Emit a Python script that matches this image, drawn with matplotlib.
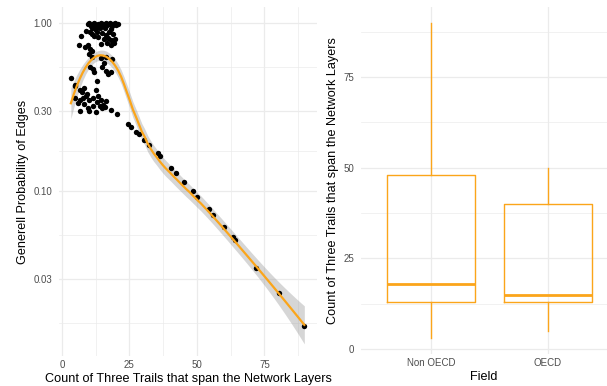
import numpy as np
import matplotlib
matplotlib.use("Agg")
import matplotlib.pyplot as plt
from matplotlib.ticker import FixedLocator

plt.rcParams["font.family"] = ["Liberation Sans", "DejaVu Sans"]

# ─── Data: scatter (left panel) ───
cluster_x = [9.5, 10.2, 10.8, 11.5, 12.0, 12.6, 13.2, 13.8, 14.5, 15.1, 15.6, 16.2, 16.8,
             17.3, 17.9, 18.5, 19.0, 19.6, 20.2, 20.7, 11.0, 12.3, 16.0, 18.0, 14.0,
             9.0, 10.5, 11.2, 13.0, 15.0, 16.5, 17.5, 19.0, 12.0,
             7.0, 13.5, 15.5, 17.0, 18.2, 19.5,
             6.4, 8.5, 9.8, 10.5, 11.0, 14.5, 16.8, 18.0, 19.2,
             10.0, 11.2, 14.5, 16.5, 18.5, 15.5,
             10.5, 11.5, 12.0, 15.0, 16.2, 17.0, 18.2,
             3.3, 13.0, 5.0,
             5.0, 6.5, 7.5, 8.0, 9.2, 12.5, 13.5, 5.0, 6.5, 7.8, 9.0, 10.2, 11.5,
             12.8, 14.5, 16.5, 6.0, 8.0, 9.5, 11.5, 14.0, 15.0, 16.0, 10.0, 12.5, 6.5]
cluster_y = [0.98, 1.00, 0.96, 0.99, 1.00, 0.97, 0.99, 0.95, 1.00, 0.98, 0.96, 1.00, 0.97,
             0.99, 1.00, 0.96, 0.98, 1.00, 0.97, 0.99, 0.93, 0.92, 0.93, 0.92, 0.94,
             0.90, 0.88, 0.86, 0.89, 0.87, 0.85, 0.88, 0.86, 0.84,
             0.84, 0.82, 0.80, 0.81, 0.79, 0.80,
             0.74, 0.72, 0.74, 0.70, 0.68, 0.75, 0.76, 0.74, 0.76,
             0.65, 0.63, 0.62, 0.63, 0.61, 0.58,
             0.55, 0.53, 0.51, 0.55, 0.52, 0.50, 0.51,
             0.47, 0.45, 0.43,
             0.42, 0.40, 0.39, 0.41, 0.38, 0.40, 0.37, 0.36, 0.35, 0.36, 0.37, 0.35, 0.36,
             0.34, 0.35, 0.345, 0.335, 0.33, 0.31, 0.32, 0.32, 0.31, 0.315, 0.30, 0.295, 0.30]
tail_x = [15.1, 18.1, 20.3, 24.4, 25.5, 27.3, 28.4, 30.3, 32.1, 35.5, 36.2, 40.3, 42.1,
          45.1, 48.4, 50.2, 54.3, 56.1, 60.2, 63.2, 64.3, 72.0, 80.5, 89.8]
tail_y = [0.325, 0.303, 0.287, 0.250, 0.240, 0.224, 0.218, 0.201, 0.188, 0.168, 0.162,
          0.137, 0.128, 0.113, 0.100, 0.092, 0.078, 0.072, 0.061, 0.053, 0.051, 0.035,
          0.0247, 0.0157]
# overlapping observations per tail dot (the box panel puts ~25% of cases above 45)
tail_n = [1, 1, 1, 4, 4, 4, 4, 4, 4, 4, 4, 4, 4,
          4, 4, 4, 4, 4, 4, 4, 4, 4, 4, 4]

# ─── Data: box summary (right panel) ───
fields = ["Non OECD", "OECD"]
whisker_low = [3, 5]
q1 = [13, 13]
median = [18, 15]
q3 = [48, 40]
whisker_high = [90, 50]

ORANGE = "#FBA51A"
GRID = "#EBEBEB"
TICK = "#4D4D4D"


def loess(x, y, xs, span=0.75):
    """Local quadratic loess with tricube weights, returns fit and s.e."""
    n = len(x)
    q = int(np.floor(n * span))

    def rows(points):
        out = []
        for x0 in points:
            d = np.abs(x - x0)
            h = np.sort(d)[q - 1]
            w = np.clip(1 - (d / h) ** 3, 0, None) ** 3
            X = np.column_stack([np.ones(n), x - x0, (x - x0) ** 2])
            XtW = X.T * w
            out.append(np.linalg.solve(XtW @ X, XtW)[0])
        return np.array(out)

    L = rows(x)
    res = y - L @ y
    IL = np.eye(n) - L
    delta = np.trace(IL.T @ IL)
    sigma = np.sqrt(np.sum(res ** 2) / delta)
    Ls = rows(xs)
    fit = Ls @ y
    se = sigma * np.sqrt(np.sum(Ls ** 2, axis=1))
    return fit, se


x_obs = np.concatenate([cluster_x, np.repeat(tail_x, tail_n)])
y_obs = np.concatenate([cluster_y, np.repeat(tail_y, tail_n)])
xs = np.linspace(x_obs.min(), x_obs.max(), 80)
fit, se = loess(x_obs, np.log10(y_obs), xs)

fig = plt.figure(figsize=(6.07, 3.86), dpi=100)

# ─── Left panel ───
ax1 = fig.add_axes([59 / 607, 1 - 356 / 386, 258 / 607, 349 / 386])
ax1.set_yscale("log")
ax1.fill_between(xs, 10 ** (fit - 1.97 * se), 10 ** (fit + 1.97 * se),
                 color="#999999", alpha=0.4, linewidth=0, zorder=2)
ax1.scatter(cluster_x + tail_x, cluster_y + tail_y, s=15, color="black",
            linewidths=0, zorder=3)
ax1.plot(xs, 10 ** fit, color=ORANGE, linewidth=1.6, zorder=4)

ax1.set_xlim(-1.1, 94.5)
ax1.set_ylim(10 ** (-(356 - 23) / 168), 10 ** ((23 - 7) / 168))
major_y = [0.03, 0.1, 0.3, 1.0]
lb = np.log10(major_y)
minor_y = 10 ** np.array([(lb[i] + lb[i + 1]) / 2 for i in range(3)] + [lb[0] - 0.26, 0.26])
ax1.yaxis.set_major_locator(FixedLocator(major_y))
ax1.yaxis.set_minor_locator(FixedLocator(minor_y))
ax1.set_yticklabels(["0.03", "0.10", "0.30", "1.00"])
ax1.set_xticks([0, 25, 50, 75])
ax1.set_xticks([12.5, 37.5, 62.5, 87.5], minor=True)
ax1.set_xlabel("Count of Three Trails that span the Network Layers", fontsize=9.1, labelpad=2)
ax1.set_ylabel("Generell Probability of Edges", fontsize=9.1, labelpad=3)

# ─── Right panel ───
ax2 = fig.add_axes([361 / 607, 1 - 354 / 386, 246 / 607, 347 / 386])
stats = []
for i, f in enumerate(fields):
    stats.append({"label": f, "whislo": whisker_low[i], "q1": q1[i], "med": median[i],
                  "q3": q3[i], "whishi": whisker_high[i], "fliers": []})
ax2.bxp(stats, positions=[1, 2], widths=0.75, showcaps=False, showfliers=False,
        boxprops=dict(color=ORANGE, linewidth=1.0),
        whiskerprops=dict(color=ORANGE, linewidth=1.0),
        medianprops=dict(color=ORANGE, linewidth=2.0),
        zorder=3)
ax2.set_xlim(0.4, 1 + (607 - 431) / 117)
ax2.set_ylim(-1.35, 94.35)
ax2.set_yticks([0, 25, 50, 75])
ax2.set_yticks([12.5, 37.5, 62.5, 87.5], minor=True)
ax2.set_xticks([1, 2])
ax2.set_xticklabels(fields)
ax2.set_xlabel("Field", fontsize=9.1, labelpad=2)
ax2.set_ylabel("Count of Three Trails that span the Network Layers", fontsize=9.1, labelpad=3)

for ax in (ax1, ax2):
    for s in ax.spines.values():
        s.set_visible(False)
    ax.set_axisbelow(True)
    ax.grid(True, which="major", color=GRID, linewidth=0.9)
    ax.grid(True, which="minor", color=GRID, linewidth=0.5)
    ax.tick_params(which="both", length=0, labelsize=7, labelcolor=TICK)
    ax.tick_params(axis="y", pad=5)
    ax.tick_params(axis="x", pad=3)

ax2.xaxis.grid(True, which="minor", color="none")

fig.savefig("out.png", dpi=100)
